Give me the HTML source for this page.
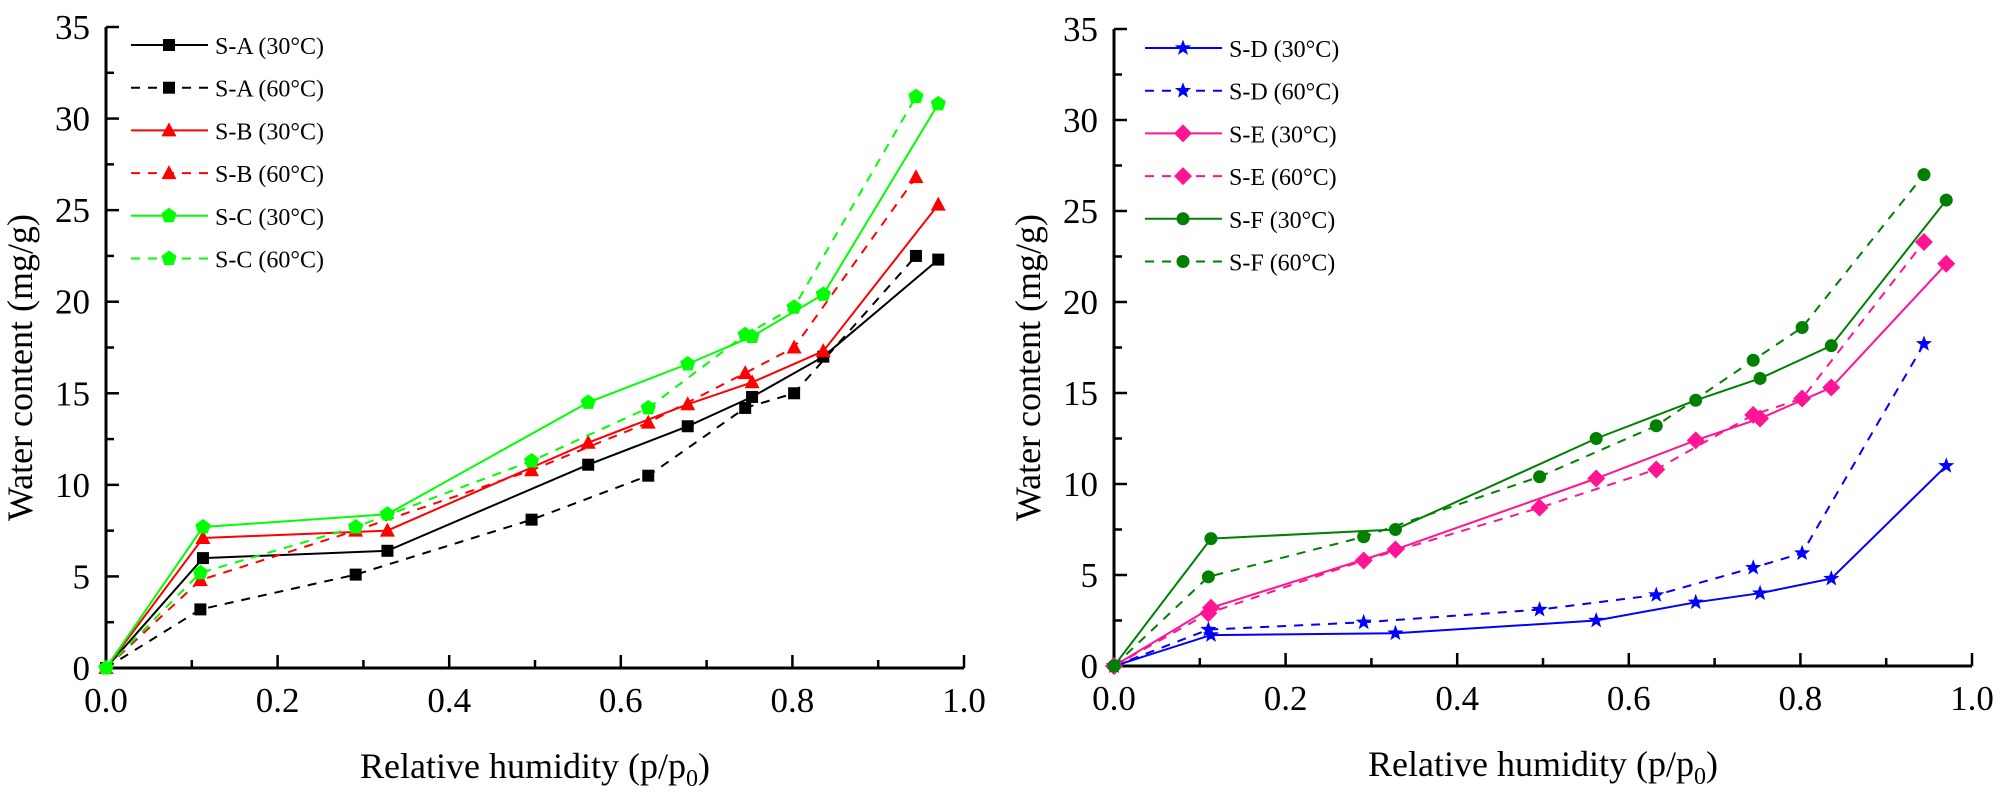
<!DOCTYPE html>
<html><head><meta charset="utf-8"><style>
html,body{margin:0;padding:0;background:#fff;}
svg{display:block;}
svg text{font-family:"Liberation Serif","Times New Roman","DejaVu Serif",serif;}
</style></head><body>
<svg id="s" width="2002" height="797" xmlns="http://www.w3.org/2000/svg"></svg>
<script>
const s=document.getElementById('s');let h='';
const F='';
const X=[0,0.113,0.328,0.562,0.678,0.753,0.836,0.97], X6=[0,0.11,0.291,0.496,0.632,0.745,0.802,0.944];
function panel(ox,oy,top,W){
 const sy=(oy-top)/35, sx=W;
 const px=v=>ox+v*sx, py=v=>oy-v*sy;
 h+=`<line x1="${ox}" y1="${top}" x2="${ox}" y2="${oy}" stroke="#000" stroke-width="3"/>`;
 h+=`<line x1="${ox}" y1="${oy}" x2="${px(1)}" y2="${oy}" stroke="#000" stroke-width="3"/>`;
 for(let v=0;v<=35;v+=2.5){const m=v%5==0;h+=`<line x1="${ox}" y1="${py(v)}" x2="${ox+(m?13:8)}" y2="${py(v)}" stroke="#000" stroke-width="2.5"/>`;
  if(m)h+=`<text x="${ox-16}" y="${py(v)+12}" font-size="35" text-anchor="end">${v}</text>`;}
 for(let i=0;i<=10;i++){const v=i/10,m=i%2==0;h+=`<line x1="${px(v)}" y1="${oy}" x2="${px(v)}" y2="${oy-(m?13:8)}" stroke="#000" stroke-width="2.5"/>`;
  if(m)h+=`<text x="${px(v)}" y="${oy+44}" font-size="35" text-anchor="middle">${v.toFixed(1)}</text>`;}
 h+=`<text x="${ox+429}" y="${oy+110}" font-size="36" text-anchor="middle">Relative humidity (p/p<tspan font-size="24" dy="8">0</tspan><tspan dy="-8">)</tspan></text>`;
 h+=`<text transform="translate(${ox-74},${(oy+top)/2+20}) rotate(-90)" font-size="36" text-anchor="middle">Water content (mg/g)</text>`;
 return [px,py];
}
function mk(t,x,y,c){
 if(t=='sq')return `<rect x="${x-6}" y="${y-6}" width="12" height="12" fill="${c}"/>`;
 if(t=='tri')return `<polygon points="${x},${y-8} ${x-7.5},${y+6} ${x+7.5},${y+6}" fill="${c}"/>`;
 if(t=='pent'){let p=[];for(let i=0;i<5;i++){const a=-Math.PI/2+i*2*Math.PI/5;p.push((x+8*Math.cos(a)).toFixed(1)+','+(y+8*Math.sin(a)).toFixed(1));}return `<polygon points="${p.join(' ')}" fill="${c}"/>`;}
 if(t=='star'){let p=[];for(let i=0;i<10;i++){const a=-Math.PI/2+i*Math.PI/5,r=i%2?3.5:8.5;p.push((x+r*Math.cos(a)).toFixed(1)+','+(y+r*Math.sin(a)).toFixed(1));}return `<polygon points="${p.join(' ')}" fill="${c}"/>`;}
 if(t=='dia')return `<polygon points="${x},${y-9} ${x+9},${y} ${x},${y+9} ${x-9},${y}" fill="${c}"/>`;
 if(t=='cir')return `<circle cx="${x}" cy="${y}" r="6.5" fill="${c}"/>`;
}
function series(P,xs,ys,c,t,dash){
 const [px,py]=P;const pts=xs.map((v,i)=>px(v).toFixed(1)+','+py(ys[i]).toFixed(1)).join(' ');
 h+=`<polyline points="${pts}" fill="none" stroke="${c}" stroke-width="2" ${dash?'stroke-dasharray="9,8"':''}/>`;
 xs.forEach((v,i)=>h+=mk(t,px(v),py(ys[i]),c));
}
function legend(lx,y0,items){
 items.forEach((it,i)=>{const y=y0+i*42.7;
  h+=`<line x1="${lx}" y1="${y}" x2="${lx+77}" y2="${y}" stroke="${it[1]}" stroke-width="2" ${it[3]?'stroke-dasharray="9,8"':''}/>`;
  h+=mk(it[2],lx+38,y,it[1]);
  h+=`<text x="${lx+84}" y="${y+9}" font-size="24">${it[0]}</text>`;});
}
const L=panel(106,668,27,858);
series(L,X,[0,6.0,6.4,11.1,13.2,14.8,17.0,22.3],'#000','sq',0);
series(L,X6,[0,3.2,5.1,8.1,10.5,14.2,15.0,22.5],'#000','sq',1);
series(L,X,[0,7.1,7.5,12.3,14.4,15.6,17.3,25.3],'#f00','tri',0);
series(L,X6,[0,4.8,7.5,10.8,13.4,16.1,17.5,26.8],'#f00','tri',1);
series(L,X,[0,7.7,8.4,14.5,16.6,18.1,20.4,30.8],'#0f0','pent',0);
series(L,X6,[0,5.2,7.7,11.3,14.2,18.2,19.7,31.2],'#0f0','pent',1);
legend(131,45,[['S-A (30°C)','#000','sq',0],['S-A (60°C)','#000','sq',1],['S-B (30°C)','#f00','tri',0],['S-B (60°C)','#f00','tri',1],['S-C (30°C)','#0f0','pent',0],['S-C (60°C)','#0f0','pent',1]]);
const R=panel(1114,666,29,858);
series(R,X,[0,1.7,1.8,2.5,3.5,4.0,4.8,11.0],'#00f','star',0);
series(R,X6,[0,2.0,2.4,3.1,3.9,5.4,6.2,17.7],'#00f','star',1);
series(R,X,[0,3.2,6.4,10.3,12.4,13.6,15.3,22.1],'#ff1493','dia',0);
series(R,X6,[0,2.9,5.8,8.7,10.8,13.8,14.7,23.3],'#ff1493','dia',1);
series(R,X,[0,7.0,7.5,12.5,14.6,15.8,17.6,25.6],'#008000','cir',0);
series(R,X6,[0,4.9,7.1,10.4,13.2,16.8,18.6,27.0],'#008000','cir',1);
legend(1145,48,[['S-D (30°C)','#00f','star',0],['S-D (60°C)','#00f','star',1],['S-E (30°C)','#ff1493','dia',0],['S-E (60°C)','#ff1493','dia',1],['S-F (30°C)','#008000','cir',0],['S-F (60°C)','#008000','cir',1]]);
s.innerHTML=h;
</script>
</body></html>
